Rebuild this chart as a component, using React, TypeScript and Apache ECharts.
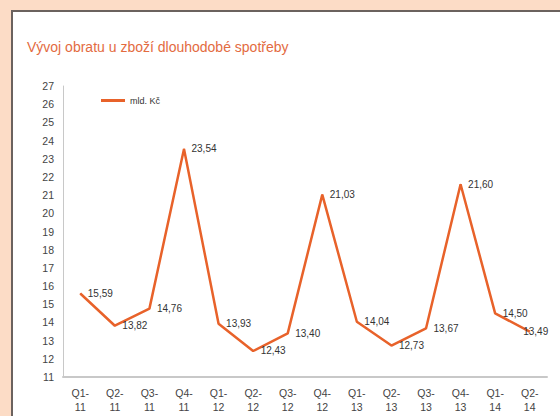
import React, { useEffect, useRef } from "react";
import * as echarts from "echarts";

const categories = [
  "Q1-\n11", "Q2-\n11", "Q3-\n11", "Q4-\n11",
  "Q1-\n12", "Q2-\n12", "Q3-\n12", "Q4-\n12",
  "Q1-\n13", "Q2-\n13", "Q3-\n13", "Q4-\n13",
  "Q1-\n14", "Q2-\n14",
];
const values = [15.59, 13.82, 14.76, 23.54, 13.93, 12.43, 13.4, 21.03, 14.04, 12.73, 13.67, 21.6, 14.5, 13.49];
const seriesName = "mld. Kč";
const title = "Vývoj obratu u zboží dlouhodobé spotřeby";

export default function App() {
  const ref = useRef<HTMLDivElement>(null);
  useEffect(() => {
    document.body.style.margin = "0";
    const chart = echarts.init(ref.current!, null, { renderer: "svg" });
    const font = "Liberation Sans, Arial, sans-serif";
    chart.setOption({
      animation: false,
      textStyle: { fontFamily: font },
      title: {
        text: title,
        left: 22,
        top: 35,
        textStyle: { color: "#e36b3f", fontSize: 14, fontWeight: "normal", fontFamily: font },
      },
      legend: {
        left: 96,
        top: 91,
        icon: "rect",
        itemWidth: 24,
        itemHeight: 3,
        itemGap: 4,
        textStyle: { fontSize: 9, color: "#333", fontFamily: font },
        data: [seriesName],
      },
      grid: { left: 63, right: 13, top: 86, bottom: 39, containLabel: false },
      xAxis: {
        type: "category",
        data: categories,
        boundaryGap: true,
        axisLine: { lineStyle: { color: "#c8c8c8", width: 2 } },
        axisTick: { show: false },
        axisLabel: { color: "#444", fontSize: 10.5, lineHeight: 14, margin: 9, interval: 0 },
      },
      yAxis: {
        type: "value",
        position: "left",
        min: 11,
        max: 27,
        interval: 1,
        axisLine: { show: true, lineStyle: { color: "#c8c8c8", width: 1 } },
        axisTick: { show: false },
        splitLine: { show: false },
        axisLabel: { color: "#444", fontSize: 10.5, margin: 9 },
      },
      series: [
        {
          name: seriesName,
          type: "line",
          data: values.map((v, i) =>
            i === values.length - 1
              ? { value: v, label: { offset: [-14, 0] } }
              : v
          ),
          symbol: "circle",
          symbolSize: 1,
          showSymbol: true,
          lineStyle: { color: "#e8622a", width: 2.5 },
          itemStyle: { color: "#e8622a" },
          label: {
            show: true,
            position: "right",
            distance: 7,
            color: "#333",
            fontSize: 10,
            formatter: (p: any) => Number(p.value).toFixed(2).replace(".", ","),
          },
        },
      ],
    });
    return () => chart.dispose();
  }, []);
  return (
    <div
      style={{
        position: "fixed",
        left: 0,
        top: 0,
        width: 560,
        height: 416,
        background: "#fcdcc6",
        overflow: "hidden",
      }}
    >
      <div
        style={{
          position: "absolute",
          left: 11,
          top: 10,
          width: 700,
          height: 600,
          background: "#ffffff",
          borderLeft: "2px solid #6b625e",
          borderTop: "2px solid #6b625e",
          boxSizing: "border-box",
        }}
      />
      <div ref={ref} style={{ position: "absolute", left: 0, top: 0, width: 560, height: 416 }} />
    </div>
  );
}
